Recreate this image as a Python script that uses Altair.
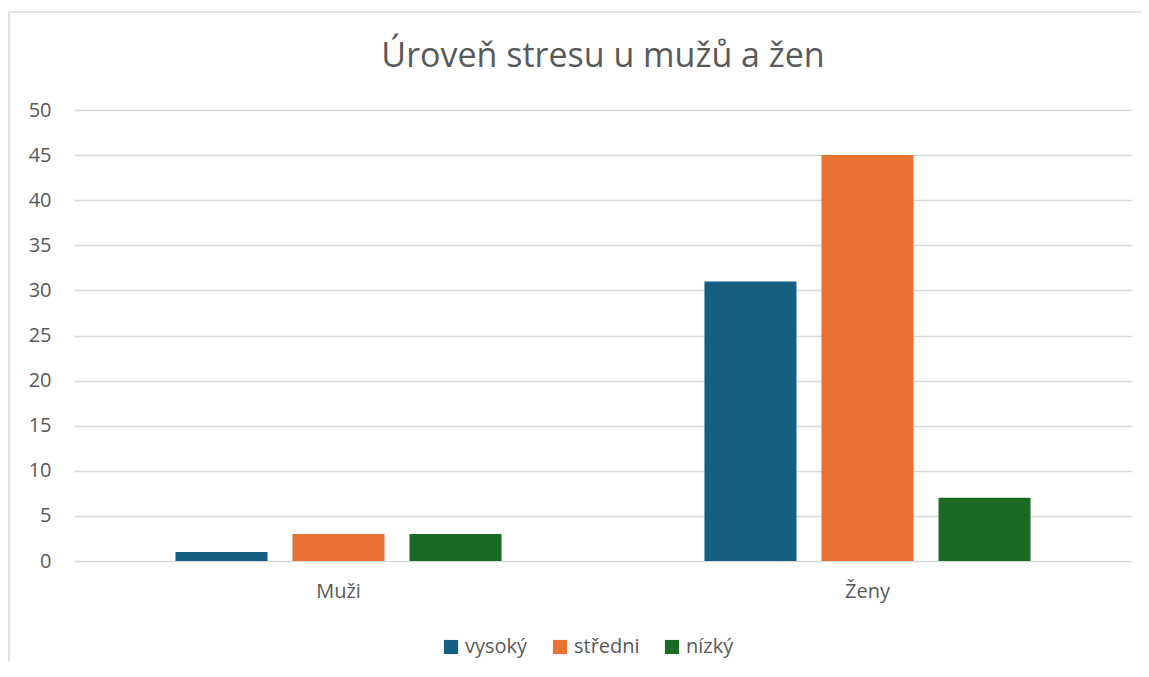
import altair as alt
import pandas as pd

categories = ["Muži", "Ženy"]
series = ["vysoký", "středni", "nízký"]
vysoky = [1, 31]
stredni = [3, 45]
nizky = [3, 7]
colors = ["#156082", "#E97132", "#196B24"]
title = "Úroveň stresu u mužů a žen"

rows = []
for s, vals in zip(series, [vysoky, stredni, nizky]):
    for c, v in zip(categories, vals):
        rows.append({"kategorie": c, "série": s, "hodnota": v})
df = pd.DataFrame(rows)

FONT = "Open Sans"
GRAY = "#595959"
W, H = 1058, 451

bars = alt.Chart(df).mark_bar().encode(
    x=alt.X("kategorie:N", sort=categories, title=None,
            scale=alt.Scale(paddingInner=0, paddingOuter=0),
            axis=alt.Axis(labelAngle=0, labelPadding=20, domain=False, ticks=False,
                          labelFontSize=20, labelColor=GRAY, labelFont=FONT, grid=False)),
    xOffset=alt.XOffset("série:N", sort=series,
                        scale=alt.Scale(paddingInner=0.2137, paddingOuter=0.867)),
    y=alt.Y("hodnota:Q", title=None,
            scale=alt.Scale(domain=[0, 50], nice=False),
            axis=alt.Axis(values=list(range(0, 51, 5)), labelPadding=23, domain=False, ticks=False,
                          labelFontSize=20, labelColor=GRAY, labelFont=FONT,
                          gridColor="#d9d9d9", gridWidth=1.5)),
    color=alt.Color("série:N", sort=series,
                    scale=alt.Scale(domain=series, range=colors),
                    legend=alt.Legend(title=None, orient="none", direction="horizontal",
                                      legendX=367, legendY=527,
                                      symbolType="square", symbolSize=200,
                                      symbolStrokeWidth=0, symbolOpacity=1,
                                      labelFontSize=20, labelColor=GRAY, labelFont=FONT,
                                      columnPadding=22, labelOffset=4)),
)

border_src = pd.DataFrame({"a": [0]})
top_line = alt.Chart(border_src).mark_rule(stroke="#d9d9d9", strokeWidth=1.5).encode(
    x=alt.value(-65), x2=alt.value(W + 100), y=alt.value(-98),
)
left_line = alt.Chart(border_src).mark_rule(stroke="#d9d9d9", strokeWidth=1.5).encode(
    x=alt.value(-65), y=alt.value(-98), y2=alt.value(H + 200),
)

chart = alt.layer(top_line, left_line, bars).properties(
    width=W, height=H,
    autosize=alt.AutoSizeParams(type="none"),
    padding={"left": 66, "top": 102, "right": 9, "bottom": 100},
    title=alt.TitleParams(title, fontSize=34, font=FONT, color=GRAY,
                          fontWeight="normal", anchor="middle", offset=0, dy=63),
).configure_view(stroke=None)

chart.save("out.html", embed_options={"renderer": "svg", "actions": False})
